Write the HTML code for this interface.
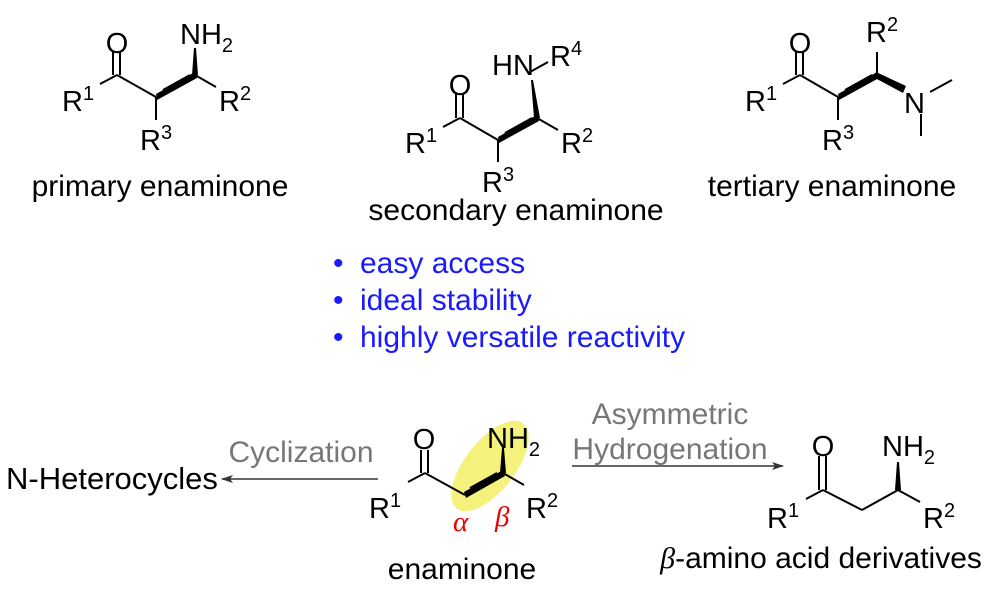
<!DOCTYPE html>
<html><head><meta charset="utf-8"><style>
html,body{margin:0;padding:0;background:#fff;}
svg{display:block;font-family:"Liberation Sans",sans-serif;}
</style></head><body>
<svg width="1000" height="595" viewBox="0 0 1000 595" xmlns="http://www.w3.org/2000/svg">
<defs>
<marker id="ah" markerWidth="12" markerHeight="8" refX="11" refY="4" orient="auto" markerUnits="userSpaceOnUse">
<path d="M0,0 L12,4 L0,8 L3,4 Z" fill="#333"/></marker>
</defs>
<g stroke="#000" stroke-width="2" fill="none">
<line x1="113" y1="52" x2="113" y2="75"/><line x1="120" y1="52" x2="120" y2="75"/>
<line x1="100" y1="84" x2="117" y2="75"/>
<line x1="117" y1="75" x2="156" y2="97"/>
<line x1="156" y1="97" x2="156" y2="120"/>
<line x1="163" y1="90" x2="190" y2="75"/>
<line x1="195" y1="75" x2="216" y2="87"/>
<line x1="456" y1="94" x2="456" y2="118"/><line x1="463" y1="94" x2="463" y2="118"/>
<line x1="443" y1="127" x2="460" y2="118"/>
<line x1="460" y1="118" x2="498" y2="140"/>
<line x1="498" y1="140" x2="498" y2="162"/>
<line x1="505" y1="133" x2="532" y2="118"/>
<line x1="537" y1="118" x2="558" y2="130"/>
<line x1="530" y1="72" x2="548" y2="62"/>
<line x1="796" y1="52" x2="796" y2="75"/><line x1="803" y1="52" x2="803" y2="75"/>
<line x1="783" y1="84" x2="800" y2="75"/>
<line x1="800" y1="75" x2="838" y2="97"/>
<line x1="838" y1="97" x2="838" y2="120"/>
<line x1="845" y1="90" x2="872" y2="75"/>
<line x1="877" y1="75" x2="877" y2="52"/>
<line x1="930" y1="92" x2="952" y2="80"/>
<line x1="921" y1="114" x2="921" y2="136"/>
</g>
<g fill="#000">
<polygon points="156,94 195,72 197,78 157,100"/>
<polygon points="192,75 198,75 196,48 194,48"/>
<polygon points="498,137 537,115 539,121 499,143"/>
<polygon points="534,118 540,118 533,80 531,80"/>
<polygon points="838,94 877,72 879,78 839,100"/>
<polygon points="876,72 906,86 903,93 875,78"/>
</g>
<g font-size="29" fill="#000">
<text x="117" y="53" text-anchor="middle">O</text>
<text x="180" y="44">NH<tspan font-size="20" dy="8">2</tspan></text>
<text x="62" y="111">R<tspan font-size="20" dy="-11">1</tspan></text>
<text x="219" y="111">R<tspan font-size="20" dy="-11">2</tspan></text>
<text x="140" y="150">R<tspan font-size="20" dy="-11">3</tspan></text>
<text x="160" y="196" text-anchor="middle" font-size="30">primary enaminone</text>

<text x="460" y="95" text-anchor="middle">O</text>
<text x="492" y="75">HN</text>
<text x="550" y="66">R<tspan font-size="20" dy="-11">4</tspan></text>
<text x="405" y="153">R<tspan font-size="20" dy="-11">1</tspan></text>
<text x="561" y="153">R<tspan font-size="20" dy="-11">2</tspan></text>
<text x="482" y="192">R<tspan font-size="20" dy="-11">3</tspan></text>
<text x="516" y="220" text-anchor="middle" font-size="30">secondary enaminone</text>

<text x="800" y="53" text-anchor="middle">O</text>
<text x="866" y="42">R<tspan font-size="20" dy="-11">2</tspan></text>
<text x="904" y="113">N</text>
<text x="745" y="111">R<tspan font-size="20" dy="-11">1</tspan></text>
<text x="822" y="150">R<tspan font-size="20" dy="-11">3</tspan></text>
<text x="832" y="196" text-anchor="middle" font-size="30">tertiary enaminone</text>
</g>
<g font-size="30" fill="#1a1aff">
<text x="333" y="273">•</text><text x="360" y="273">easy access</text>
<text x="333" y="310">•</text><text x="360" y="310">ideal stability</text>
<text x="333" y="347">•</text><text x="360" y="347">highly versatile reactivity</text>
</g>
<ellipse cx="490" cy="466" rx="25" ry="54" transform="rotate(38 490 466)" fill="#f0ee50" opacity="0.75"/>
<g stroke="#000" stroke-width="2" fill="none">
<line x1="421" y1="450" x2="421" y2="473"/><line x1="428" y1="450" x2="428" y2="473"/>
<line x1="408" y1="482" x2="425" y2="473"/>
<line x1="425" y1="473" x2="465" y2="495"/>
<line x1="470" y1="488" x2="497" y2="473"/>
<line x1="503" y1="473" x2="524" y2="485"/>
<line x1="819" y1="456" x2="819" y2="490"/><line x1="826" y1="456" x2="826" y2="490"/>
<line x1="806" y1="499" x2="823" y2="490"/>
<line x1="823" y1="490" x2="862" y2="510"/>
<line x1="862" y1="510" x2="898" y2="490"/>
<line x1="898" y1="490" x2="920" y2="502"/>
</g>
<g fill="#000">
<polygon points="464,492 503,470 505,476 466,498"/>
<polygon points="500,473 506,473 504,448 502,448"/>
<polygon points="895,490 901,490 899,462 897,462"/>
</g>
<g stroke="#333" stroke-width="1.5">
<line x1="378" y1="479" x2="222" y2="479" marker-end="url(#ah)"/>
<line x1="572" y1="466" x2="783" y2="466" marker-end="url(#ah)"/>
</g>
<g font-size="29" fill="#000">
<text x="424" y="449" text-anchor="middle">O</text>
<text x="487" y="448">NH<tspan font-size="20" dy="8">2</tspan></text>
<text x="369" y="518">R<tspan font-size="20" dy="-11">1</tspan></text>
<text x="526" y="518">R<tspan font-size="20" dy="-11">2</tspan></text>
<text x="462" y="579" text-anchor="middle" font-size="30">enaminone</text>
<text x="6" y="489" font-size="31">N-Heterocycles</text>
<text x="823" y="456" text-anchor="middle">O</text>
<text x="882" y="456">NH<tspan font-size="20" dy="8">2</tspan></text>
<text x="767" y="528">R<tspan font-size="20" dy="-11">1</tspan></text>
<text x="923" y="528">R<tspan font-size="20" dy="-11">2</tspan></text>
<text x="821" y="568" text-anchor="middle" font-size="30"><tspan font-family="Liberation Serif" font-style="italic">β</tspan>-amino acid derivatives</text>
</g>
<g font-size="30" fill="#777" text-anchor="middle">
<text x="301" y="462">Cyclization</text>
<text x="670" y="424">Asymmetric</text>
<text x="670" y="459">Hydrogenation</text>
</g>
<g font-family="Liberation Serif" font-style="italic" font-size="29" fill="#e00">
<text x="453" y="531">α</text>
<text x="495" y="526">β</text>
</g>
</svg>
</body></html>
